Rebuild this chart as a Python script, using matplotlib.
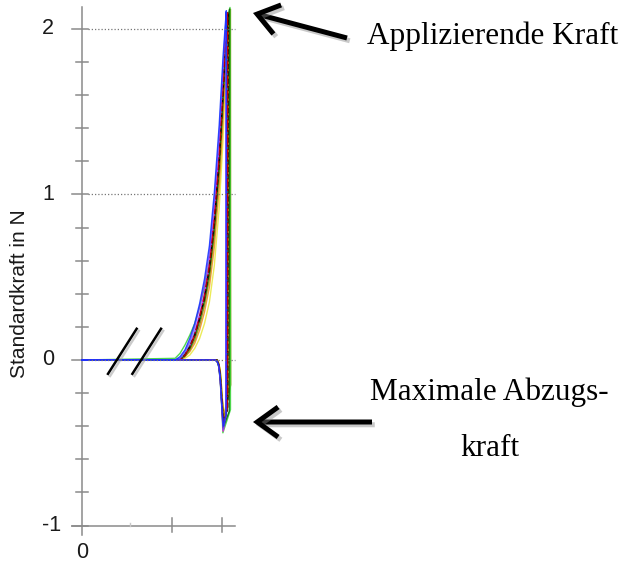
import matplotlib
matplotlib.use("Agg")
import matplotlib.pyplot as plt
import matplotlib.patheffects as pe
import matplotlib.transforms as mtransforms
from matplotlib.patches import FancyArrowPatch

# ---------------------------------------------------------------------------
# Force curves (displacement axis shown broken; units arbitrary)
# ---------------------------------------------------------------------------
LOAD_X = [0.00, 1.90, 2.00, 2.10, 2.20, 2.30, 2.40, 2.50, 2.60, 2.70, 2.80, 2.88, 2.94]

CURVE_COLORS = ["#e8e83a", "#f08a1c", "#8a8a00", "#30d030", "#00c8c8", "#ff00ff",
                "#8b0000", "#006400", "#000000", "#d00000", "#8040ff", "#1030ff"]
CURVE_STYLES = ["-", "-", "-", "-", "-", "-", "--", "-", "--", "-.", "-", "-"]

LOAD_Y = [
    [0.00, 0.00, 0.00, 0.01, 0.03, 0.07, 0.13, 0.22, 0.35, 0.57, 0.92, 1.34, 1.80],
    [0.00, 0.00, 0.00, 0.02, 0.05, 0.10, 0.18, 0.29, 0.44, 0.68, 1.04, 1.46, 1.90],
    [0.00, 0.00, 0.00, 0.02, 0.06, 0.12, 0.21, 0.33, 0.49, 0.75, 1.12, 1.54, 1.94],
    [0.00, 0.01, 0.04, 0.09, 0.15, 0.22, 0.32, 0.44, 0.60, 0.87, 1.24, 1.64, 2.00],
    [0.00, 0.00, 0.01, 0.04, 0.09, 0.17, 0.27, 0.40, 0.58, 0.86, 1.25, 1.66, 2.01],
    [0.00, 0.00, 0.00, 0.03, 0.08, 0.16, 0.27, 0.40, 0.58, 0.87, 1.26, 1.68, 2.02],
    [0.00, 0.00, 0.00, 0.03, 0.08, 0.15, 0.25, 0.37, 0.54, 0.81, 1.19, 1.61, 1.98],
    [0.00, 0.00, 0.00, 0.03, 0.07, 0.14, 0.24, 0.36, 0.53, 0.80, 1.18, 1.60, 1.97],
    [0.00, 0.00, 0.00, 0.03, 0.08, 0.15, 0.25, 0.38, 0.56, 0.83, 1.21, 1.63, 1.99],
    [0.00, 0.00, 0.00, 0.03, 0.08, 0.15, 0.26, 0.39, 0.57, 0.85, 1.23, 1.65, 2.00],
    [0.00, 0.00, 0.01, 0.05, 0.11, 0.20, 0.32, 0.46, 0.65, 0.96, 1.36, 1.78, 2.07],
    [0.00, 0.00, 0.02, 0.06, 0.13, 0.22, 0.34, 0.49, 0.69, 1.01, 1.42, 1.84, 2.09],
]

# maximum of the loading branch
PEAK_X = [3.000, 2.990, 3.030, 3.020, 2.960, 2.950, 2.975, 3.010, 2.985, 2.970, 2.940, 2.945]
PEAK_Y = [2.05, 2.07, 2.12, 2.13, 2.08, 2.10, 2.10, 2.12, 2.09, 2.10, 2.10, 2.11]

# end of the near-vertical unloading branch
DROP_X = [3.005, 2.995, 3.035, 3.030, 2.955, 2.945, 2.965, 3.005, 2.975, 2.965, 2.935, 2.940]
DROP_Y = [-0.17, -0.20, -0.15, -0.30, -0.31, -0.33, -0.30, -0.31, -0.29, -0.30, -0.34, -0.33]

# adhesion minimum (maximum pull-off force)
DIP_X = [2.900, 2.900, 2.900, 2.875, 2.885, 2.880, 2.885, 2.880, 2.890, 2.890, 2.880, 2.885]
DIP_Y = [-0.33, -0.34, -0.35, -0.44, -0.39, -0.43, -0.40, -0.41, -0.37, -0.38, -0.42, -0.40]

# return to zero after pull-off
RETURN_X = [2.86, 2.84, 2.82, 2.79, 2.76, 2.72, 0.00]
RETURN_Y = [
    [-0.22, -0.12, -0.06, -0.02, 0.00, 0.00, 0.00],
    [-0.23, -0.13, -0.06, -0.02, 0.00, 0.00, 0.00],
    [-0.24, -0.14, -0.07, -0.02, 0.00, 0.00, 0.00],
    [-0.33, -0.22, -0.12, -0.04, -0.01, 0.00, 0.00],
    [-0.29, -0.19, -0.10, -0.03, -0.01, 0.00, 0.00],
    [-0.32, -0.21, -0.11, -0.03, -0.01, 0.00, 0.00],
    [-0.30, -0.20, -0.10, -0.03, -0.01, 0.00, 0.00],
    [-0.31, -0.21, -0.11, -0.04, -0.01, 0.00, 0.00],
    [-0.27, -0.17, -0.09, -0.03, 0.00, 0.00, 0.00],
    [-0.28, -0.18, -0.09, -0.03, 0.00, 0.00, 0.00],
    [-0.32, -0.22, -0.12, -0.04, -0.01, 0.00, 0.00],
    [-0.30, -0.20, -0.10, -0.03, -0.01, 0.00, 0.00],
]

Y_MAJOR = [-1, 0, 1, 2]
Y_MAJOR_LABELS = ["-1", "0", "1", "2"]
Y_MINOR = [-0.8, -0.6, -0.4, -0.2, 0.2, 0.4, 0.6, 0.8, 1.2, 1.4, 1.6, 1.8]
Y_GRID = [0, 1, 2]
X_TICKS = [1.83, 2.85]
X_FAINT_TICK = 0.98
X_LABEL_ZERO = "0"

# axis break marks ("//") on the zero line
BREAK_X = [[0.517, 1.129], [1.014, 1.626]]
BREAK_Y = [-0.09, 0.195]

AXIS_GREY = "#8a8a8a"
W, H = 626, 564

fig = plt.figure(figsize=(W / 100, H / 100), dpi=100)
ax = fig.add_axes([82 / W, 38.5 / H, 153 / W, 519.7 / H])
XMAX = 153 / 49
ax.set_xlim(0, XMAX)
ax.set_ylim(-1, 2.14)
ax.axis("off")

px = 1 / 49  # one pixel in x data units

# axes lines
ax.plot([0, 0], [-1.06, 2.13], color=AXIS_GREY, lw=1.1, clip_on=False, zorder=1)
ax.plot([-10 * px, XMAX], [-1, -1], color=AXIS_GREY, lw=1.1, clip_on=False, zorder=1)
for v in Y_MAJOR:
    ax.plot([-10 * px, 6 * px], [v, v], color=AXIS_GREY, lw=1.1, clip_on=False, zorder=1)
for v in Y_MINOR:
    ax.plot([-6 * px, 6 * px], [v, v], color=AXIS_GREY, lw=1.1, clip_on=False, zorder=1)
for v in Y_GRID:
    ax.plot([6 * px, XMAX], [v, v], color="#777777", lw=0.9, ls=(0, (1, 1.6)),
            clip_on=False, zorder=5)
for x in X_TICKS:
    ax.plot([x, x], [-0.955, -1.04], color=AXIS_GREY, lw=1.1, clip_on=False, zorder=1)
ax.plot([X_FAINT_TICK, X_FAINT_TICK], [-0.985, -1.0], color="#c8c8c8", lw=1.0,
        clip_on=False, zorder=1)

# tick labels
tick_font = dict(family="Liberation Sans", fontsize=15.5, color="#1a1a1a")
ytr = mtransforms.blended_transform_factory(fig.transFigure, ax.transData)
for v, lab in zip(Y_MAJOR, Y_MAJOR_LABELS):
    xc = 51.5 if lab.startswith("-") else 48
    ax.text(xc / W, v, lab, transform=ytr, ha="center", va="center", **tick_font)
xtr = mtransforms.blended_transform_factory(ax.transData, fig.transFigure)
ax.text(0, 1 - 552 / H, X_LABEL_ZERO, transform=xtr, ha="center", va="center", **tick_font)

fig.text(20 / W, 1 - 294 / H, "Standardkraft in N", rotation=90, ha="center",
         va="center", family="Liberation Sans", fontsize=15, color="#1a1a1a")

# force curves
for i, color in enumerate(CURVE_COLORS):
    xs = list(LOAD_X) + [PEAK_X[i], DROP_X[i], DIP_X[i]] + list(RETURN_X)
    ys = list(LOAD_Y[i]) + [PEAK_Y[i], DROP_Y[i], DIP_Y[i]] + list(RETURN_Y[i])
    ax.plot(xs, ys, color=color, lw=1.0, ls=CURVE_STYLES[i], alpha=0.85,
            clip_on=False, zorder=3)

# axis break marks
shadow = [pe.SimpleLineShadow(offset=(1.5, -1.5), shadow_color="#999999", alpha=0.5),
          pe.Normal()]
for bx in BREAK_X:
    ax.plot(bx, BREAK_Y, color="black", lw=1.8, solid_capstyle="butt", zorder=6,
            path_effects=shadow)

# annotation arrows and labels
arrow_shadow = [pe.SimpleLineShadow(offset=(2, -2), shadow_color="#888888", alpha=0.45),
                pe.Normal()]


def fig_xy(x, y):
    return (x / W, 1 - y / H)


for tail, head in [((347, 38), (253, 13)), ((372, 422), (253, 422))]:
    arr = FancyArrowPatch(fig_xy(*tail), fig_xy(*head), transform=fig.transFigure,
                          arrowstyle="->,head_length=0.5,head_width=0.36",
                          mutation_scale=30, lw=3.6, color="black",
                          shrinkA=0, shrinkB=0, joinstyle="miter", capstyle="butt",
                          path_effects=arrow_shadow)
    fig.add_artist(arr)

serif = dict(family="Liberation Serif", fontsize=22.5, color="black")
fig.text(*fig_xy(493, 36), "Applizierende Kraft", ha="center", va="center", **serif)
fig.text(*fig_xy(489, 392), "Maximale Abzugs-", ha="center", va="center", **serif)
fig.text(*fig_xy(490, 448), "kraft", ha="center", va="center", **serif)

fig.savefig("out.png", dpi=100)
